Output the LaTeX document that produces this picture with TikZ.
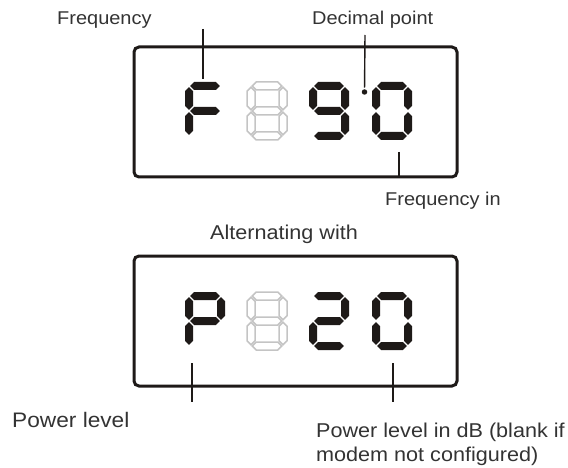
\documentclass[tikz,border=0pt]{standalone}
\usepackage{fontspec}
\setmainfont{Liberation Sans}[FakeStretch=1.08]
\definecolor{lcdblack}{HTML}{1E1A18}
\definecolor{lcdgray}{HTML}{C4C4C4}
\definecolor{txt}{HTML}{333333}
\def\sT{4.0}\def\sG{1.2}\def\sW{40}\def\sH{58}
\newcommand\hseg[4]{\path[#1] (#2,#4) -- ({#2+\sT},{#4-\sT}) -- ({#3-\sT},{#4-\sT}) -- (#3,#4) -- ({#3-\sT},{#4+\sT}) -- ({#2+\sT},{#4+\sT}) -- cycle;}
\newcommand\vseg[4]{\path[#1] (#4,#2) -- ({#4+\sT},{#2+\sT}) -- ({#4+\sT},{#3-\sT}) -- (#4,#3) -- ({#4-\sT},{#3-\sT}) -- ({#4-\sT},{#2+\sT}) -- cycle;}
\newcommand\lcdcell[2]{\pgfmathsetmacro\xl{#1+\sT}\pgfmathsetmacro\xr{#1+\sW-\sT}\pgfmathsetmacro\yt{#2+\sT}\pgfmathsetmacro\ym{#2+\sH/2}\pgfmathsetmacro\yb{#2+\sH-\sT}}
\newcommand\segA[1]{\hseg{#1}{\xl+\sG}{\xr-\sG}{\yt}}
\newcommand\segG[1]{\hseg{#1}{\xl+\sG}{\xr-\sG}{\ym}}
\newcommand\segD[1]{\hseg{#1}{\xl+\sG}{\xr-\sG}{\yb}}
\newcommand\segF[1]{\vseg{#1}{\yt+\sG}{\ym-\sG}{\xl}}
\newcommand\segE[1]{\vseg{#1}{\ym+\sG}{\yb-\sG}{\xl}}
\newcommand\segB[1]{\vseg{#1}{\yt+\sG}{\ym-\sG}{\xr}}
\newcommand\segC[1]{\vseg{#1}{\ym+\sG}{\yb-\sG}{\xr}}
\begin{document}
\begin{tikzpicture}[x=1pt,y=-1pt,
  on/.style={fill=lcdblack},
  off/.style={draw=lcdgray,line width=1.5pt,line join=miter},
  lcdbox/.style={draw=lcdblack,line width=3pt,rounded corners=5pt,minimum width=323pt,minimum height=130pt,inner sep=0pt},
  leader/.style={draw=lcdblack,line width=1.4pt},
  lbl/.style={inner sep=0pt,anchor=base west,text=txt,font=\fontsize{18.5}{22}\selectfont},
  lblb/.style={inner sep=0pt,anchor=base west,text=txt,font=\fontsize{20}{24}\selectfont}]
\useasboundingbox (0,0) rectangle (568,468);
% boxes
\node[lcdbox] (box1) at (295.5,112) {};
\node[lcdbox] (box2) at (295.5,321) {};
% top display: F 8 9.0
\lcdcell{185}{82}\segA{on}\segF{on}\segG{on}\segE{on}
\lcdcell{247}{82}\segA{off}\segB{off}\segC{off}\segD{off}\segE{off}\segF{off}\segG{off}
\lcdcell{309}{82}\segA{on}\segB{on}\segC{on}\segD{on}\segF{on}\segG{on}
\lcdcell{372}{82}\segA{on}\segB{on}\segC{on}\segD{on}\segE{on}\segF{on}
\node[circle,fill=lcdblack,inner sep=0pt,minimum size=5.5pt] (dp) at (364.5,92) {};
% bottom display: P 8 2 0
\lcdcell{185}{292}\segA{on}\segB{on}\segF{on}\segG{on}\segE{on}
\lcdcell{247}{292}\segA{off}\segB{off}\segC{off}\segD{off}\segE{off}\segF{off}\segG{off}
\lcdcell{309}{292}\segA{on}\segB{on}\segG{on}\segE{on}\segD{on}
\lcdcell{372}{292}\segA{on}\segB{on}\segC{on}\segD{on}\segE{on}\segF{on}
% labels
\node[lbl] (tFreq) at (57,25) {Frequency};
\node[lbl] (tDec) at (312,25) {Decimal point};
\node[lbl] (tFreqIn) at (385,205) {Frequency in};
\node[lblb] (tAlt) at (210,240) {Alternating with};
\node[lblb,font=\fontsize{21}{25}\selectfont] (tPow) at (12,427) {Power level};
\node[lblb] (tPowdB) at (316,437) {Power level in dB (blank if};
\node[lblb] (tPowdB2) at (316,461) {modem not configured)};
% leader lines
\coordinate (l1a) at (203,29); \coordinate (l1b) at (203,79);
\coordinate (l2a) at (365,35);
\coordinate (l3a) at (399,152); \coordinate (l3b) at (399,177);
\coordinate (l4a) at (192,363); \coordinate (l4b) at (192,402);
\coordinate (l5a) at (393,363); \coordinate (l5b) at (393,402);
\draw[leader] (l1a) -- (l1b);
\draw[leader,shorten >=1.5pt] (l2a) -- (dp);
\draw[leader] (l3a) -- (l3b);
\draw[leader] (l4a) -- (l4b);
\draw[leader] (l5a) -- (l5b);
\end{tikzpicture}
\end{document}
